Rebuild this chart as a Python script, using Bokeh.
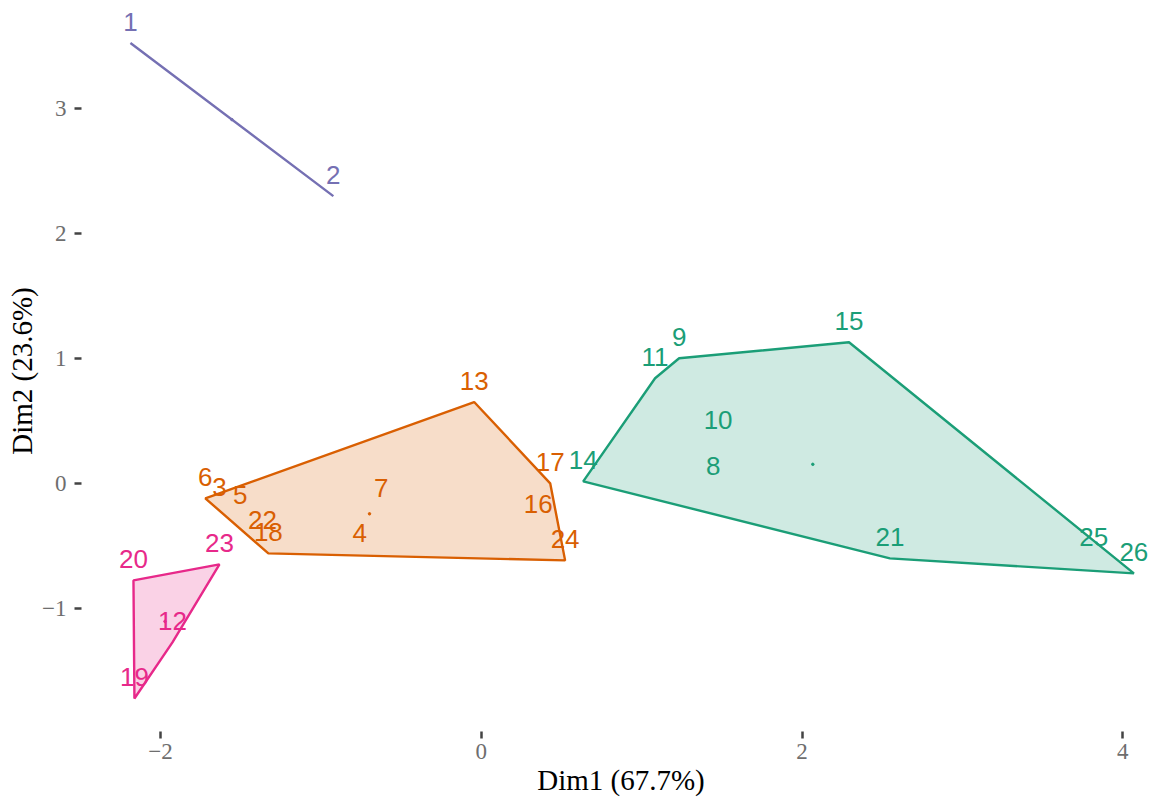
from bokeh.plotting import figure
from bokeh.models import Range1d, FixedTicker, ColumnDataSource
from bokeh.core.properties import value
from bokeh.embed import file_html
from bokeh.resources import INLINE

# ---- data -------------------------------------------------------------
labels = ["1", "2",
          "3", "4", "5", "6", "7", "13", "16", "17", "18", "22", "24",
          "8", "9", "10", "11", "14", "15", "21", "25", "26",
          "12", "19", "20", "23"]
dim1 = [-2.187, -0.922,
        -1.632, -0.757, -1.502, -1.720, -0.623, -0.044, 0.355, 0.430, -1.327, -1.364, 0.523,
        1.446, 1.234, 1.477, 1.084, 0.636, 2.293, 2.548, 3.819, 4.069,
        -1.925, -2.162, -2.168, -1.632]
dim2 = [3.520, 2.296,
        -0.200, -0.564, -0.264, -0.120, -0.208, 0.650, -0.336, 0.000, -0.560, -0.464, -0.616,
        -0.032, 1.000, 0.336, 0.840, 0.016, 1.128, -0.600, -0.600, -0.720,
        -1.272, -1.720, -0.776, -0.648]
cluster = [1, 1,
           2, 2, 2, 2, 2, 2, 2, 2, 2, 2, 2,
           3, 3, 3, 3, 3, 3, 3, 3, 3,
           4, 4, 4, 4]
cluster_colors = {1: "#7570B3", 2: "#D95F02", 3: "#1B9E77", 4: "#E7298A"}

x_ticks = [-2, 0, 2, 4]
x_tick_labels = ["\u22122", "0", "2", "4"]
y_ticks = [-1, 0, 1, 2, 3]
y_tick_labels = ["\u22121", "0", "1", "2", "3"]
x_title = "Dim1 (67.7%)"
y_title = "Dim2 (23.6%)"


def convex_hull(pts):
    pts = sorted(set(pts))
    if len(pts) <= 2:
        return pts

    def cross(o, a, b):
        return (a[0] - o[0]) * (b[1] - o[1]) - (a[1] - o[1]) * (b[0] - o[0])

    lower = []
    for pt in pts:
        while len(lower) >= 2 and cross(lower[-2], lower[-1], pt) <= 0:
            lower.pop()
        lower.append(pt)
    upper = []
    for pt in reversed(pts):
        while len(upper) >= 2 and cross(upper[-2], upper[-1], pt) <= 0:
            upper.pop()
        upper.append(pt)
    return lower[:-1] + upper[:-1]


p = figure(width=1160, height=798, output_backend="svg", toolbar_location=None,
           x_range=Range1d(-2.492, 4.235), y_range=Range1d(-1.984, 3.78),
           min_border_left=81, min_border_right=0, min_border_top=10, min_border_bottom=67)
p.outline_line_color = None
p.grid.visible = False
p.background_fill_color = "white"

for k in sorted(cluster_colors):
    col = cluster_colors[k]
    pts = [(x, y) for x, y, c in zip(dim1, dim2, cluster) if c == k]
    hull = convex_hull(pts)
    hx = [h[0] for h in hull]
    hy = [h[1] for h in hull]
    p.patch(hx, hy, fill_color=col, fill_alpha=0.21 if len(hull) > 2 else 0.0,
            line_color=col, line_width=2.4)

for k in sorted(cluster_colors):
    col = cluster_colors[k]
    idx = [i for i, c in enumerate(cluster) if c == k]
    src = ColumnDataSource(dict(x=[dim1[i] for i in idx], y=[dim2[i] for i in idx],
                                t=[labels[i] for i in idx]))
    p.text(x="x", y="y", text="t", source=src, text_color=col,
           text_font=value("Liberation Sans"), text_font_size=value("26px"),
           text_align="center", text_baseline="middle", y_offset=-21)
    cx = sum(dim1[i] for i in idx) / len(idx)
    cy = sum(dim2[i] for i in idx) / len(idx)
    p.scatter([cx], [cy], size=2.5, color=col)

for ax, ticks, tl, title in ((p.xaxis, x_ticks, x_tick_labels, x_title),
                             (p.yaxis, y_ticks, y_tick_labels, y_title)):
    ax.ticker = FixedTicker(ticks=ticks)
    ax.major_label_overrides = {t: s for t, s in zip(ticks, tl)}
    ax.axis_line_color = None
    ax.major_tick_line_color = "#444444"
    ax.major_tick_line_width = 2.5
    ax.major_tick_out = 7
    ax.major_tick_in = 0
    ax.minor_tick_line_color = None
    ax.major_label_text_font = "Liberation Serif"
    ax.major_label_text_font_size = "23px"
    ax.major_label_text_color = "#6E6E6E"
    ax.axis_label = title
    ax.axis_label_text_font = "Liberation Serif"
    ax.axis_label_text_font_size = "29px"
    ax.axis_label_text_font_style = "normal"
    ax.axis_label_text_color = "black"

p.xaxis.major_label_standoff = 5
p.xaxis.axis_label_standoff = 2
p.yaxis.major_label_standoff = 8
p.yaxis.axis_label_standoff = 1

open("out.html", "w").write(file_html(p, INLINE))
